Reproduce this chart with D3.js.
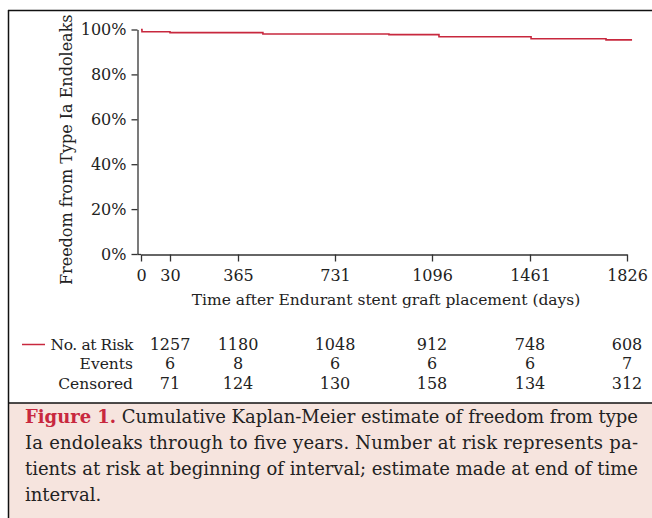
<!DOCTYPE html>
<html><head><meta charset="utf-8">
<script src="https://cdn.jsdelivr.net/npm/d3@7"></script>
<style>
html,body{margin:0;padding:0;background:#fff;}
svg{display:block;}
text{font-family:"DejaVu Serif",serif;fill:#222;}
</style></head>
<body>
<svg id="c" width="652" height="518"></svg>
<script>
// ---- data ----
const kmDays     = [0, 1, 30, 459, 934, 1122, 1465, 1747, 1845];
const kmSurvival = [100, 99.0, 98.6, 98.0, 97.7, 96.8, 95.9, 95.4, 95.4];
const xTickValues = [0, 30, 365, 731, 1096, 1461, 1826];
const yTickValues = [0, 20, 40, 60, 80, 100];
const tableDays  = [30, 365, 731, 1096, 1461, 1826];
const atRisk     = [1257, 1180, 1048, 912, 748, 608];
const events     = [6, 8, 6, 6, 6, 7];
const censored   = [71, 124, 130, 158, 134, 312];
const rowLabels  = ["No. at Risk", "Events", "Censored"];
const yTitle = "Freedom from Type Ia Endoleaks";
const xTitle = "Time after Endurant stent graft placement (days)";
const captionBold = "Figure 1.";
const captionLines = [
  " Cumulative Kaplan-Meier estimate of freedom from type",
  "Ia endoleaks through to five years. Number at risk represents pa-",
  "tients at risk at beginning of interval; estimate made at end of time",
  "interval."
];

const svg = d3.select("#c");
const red = "#c8283e";

// frame
svg.append("rect").attr("x",8).attr("y",403).attr("width",660).attr("height",130).attr("fill","#f6e4de");
svg.append("line").attr("x1",8).attr("x2",652).attr("y1",10.5).attr("y2",10.5).attr("stroke","#111").attr("stroke-width",1.5);
svg.append("line").attr("x1",8).attr("x2",652).attr("y1",403).attr("y2",403).attr("stroke","#111").attr("stroke-width",1.5);
svg.append("line").attr("x1",8.5).attr("x2",8.5).attr("y1",10).attr("y2",518).attr("stroke","#111").attr("stroke-width",1.5);

// scales (piecewise to match the original's irregular tick spacing)
const x = d3.scaleLinear().domain(xTickValues).range([141,170,238,335,432,530,627]);
const y = d3.scaleLinear().domain([0,100]).range([254,29.5]);
const axisX0 = 137.5;

// y axis
const gy = svg.append("g").attr("transform",`translate(${axisX0},0)`)
  .call(d3.axisLeft(y).tickValues(yTickValues).tickFormat(d=>d+"%").tickSize(6).tickSizeOuter(0));
gy.selectAll("text").style("font-size","16px").attr("dx","-2");
gy.selectAll("path,line").attr("stroke","#333").attr("stroke-width",1.3);

// x axis
const gx = svg.append("g").attr("transform",`translate(0,${y(0)+0.5})`)
  .call(d3.axisBottom(x).tickValues(xTickValues).tickFormat(d=>d).tickSize(7).tickSizeOuter(0));
gx.selectAll("text").style("font-size","16px").attr("dy","1.05em");
gx.selectAll("path,line").attr("stroke","#333").attr("stroke-width",1.3);
svg.append("line").attr("x1",axisX0).attr("x2",x(0)).attr("y1",y(0)+0.5).attr("y2",y(0)+0.5).attr("stroke","#333").attr("stroke-width",1.3);

// titles
svg.append("text").attr("transform",`translate(72,${(y(0)+y(100))/2+8}) rotate(-90)`)
  .attr("text-anchor","middle").style("font-size","16px").text(yTitle);
svg.append("text").attr("x",(x(0)+x(1826))/2+2).attr("y",305).attr("text-anchor","middle")
  .style("font-size","15.5px").text(xTitle);

// KM line
const pts = kmDays.map((d,i)=>[d,kmSurvival[i]]);
svg.append("path").datum(pts)
  .attr("d",d3.line().x(d=>x(d[0])).y(d=>y(d[1])).curve(d3.curveStepAfter))
  .attr("fill","none").attr("stroke",red).attr("stroke-width",1.6);

// risk table
const rowY = [350, 369, 389];
const rows = [atRisk, events, censored];
rowLabels.forEach((lab,i)=>{
  svg.append("text").attr("x",133).attr("y",rowY[i]).attr("text-anchor","end").style("font-size","15.5px")
    .style("letter-spacing", i===0 ? "-0.4px" : "0px").text(lab);
  svg.selectAll(null).data(rows[i]).enter().append("text")
    .attr("x",(d,j)=>x(tableDays[j])).attr("y",rowY[i]).attr("text-anchor","middle")
    .style("font-size","16px").text(d=>d);
});
svg.append("line").attr("x1",22).attr("x2",45).attr("y1",344.5).attr("y2",344.5).attr("stroke",red).attr("stroke-width",1.5);

// caption
const capX = 25, capRight = 638, capY0 = 423, capDy = 26;
captionLines.forEach((ln,i)=>{
  const t = svg.append("text").attr("x",capX).attr("y",capY0+i*capDy).style("font-size","18px");
  if(i===0){
    t.append("tspan").attr("fill",red).style("fill",red).style("font-weight","bold").text(captionBold);
    t.append("tspan").text(ln);
  } else t.text(ln);
  if(i<captionLines.length-1){
    t.attr("textLength",capRight-capX).attr("lengthAdjust","spacing");
  }
});
</script>
</body></html>
